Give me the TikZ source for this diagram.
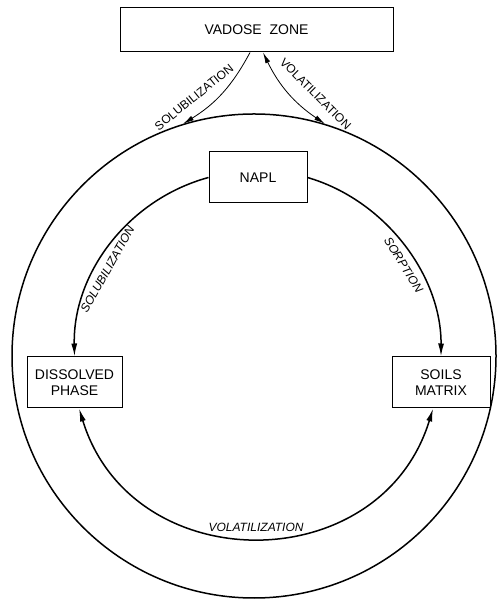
\documentclass[tikz,border=0pt]{standalone}
\usepackage{fontspec}
\setmainfont{Liberation Sans}
\usetikzlibrary{arrows.meta}

\begin{document}
\begin{tikzpicture}[x=1pt, y=1pt,
  box/.style={draw, line width=1pt, align=center, inner sep=0pt, font=\fontsize{14}{16}\selectfont},
  bigtip/.tip={Latex[length=13pt, width=6pt]},
  smalltip/.tip={Latex[length=11pt, width=5pt]},
  flow/.style={line width=1.5pt, -bigtip},
  swap/.style={line width=0.8pt, -smalltip},
  lbl/.style={font=\fontsize{12}{14}\selectfont, inner sep=0pt},
  ilbl/.style={font=\itshape\fontsize{12}{14}\selectfont, inner sep=2pt}]
\useasboundingbox (0,0) rectangle (498,599);
\node[circle, draw, line width=1.5pt, minimum size=484pt, inner sep=0pt] (ring) at (254,243) {};
\node[box, minimum width=273pt, minimum height=44pt] (vad) at (256.5,569) {VADOSE~~ZONE};
\node[box, minimum width=98pt, minimum height=51pt] (napl) at (258,421.5) {NAPL};
\node[box, minimum width=95pt, minimum height=51pt] (dis) at (74.5,216.5) {DISSOLVED\\PHASE};
\node[box, minimum width=98pt, minimum height=51pt] (soil) at (441,216.5) {SOILS\\MATRIX};
\draw[swap] ([xshift=-6.5pt]vad.south) to[bend left=15]
  node[lbl, pos=0.5, xshift=-28pt, yshift=-4pt, rotate=39] {SOLUBILIZATION} (ring.107);
\draw[swap, smalltip-smalltip] ([xshift=6.5pt]vad.south) to[bend right=15]
  node[lbl, pos=0.5, xshift=27pt, yshift=-1pt, rotate=-45] {VOLATILIZATION} (ring.73);
\draw[flow] (napl.west) to[bend right=38, looseness=0.95]
  node[ilbl, sloped, below=4pt, pos=0.6] {SOLUBILIZATION} (dis.north);
\draw[flow] (napl.east) to[bend left=37, looseness=0.93]
  node[ilbl, sloped, below=4pt, pos=0.57] {SORPTION} (soil.north);
\draw[flow, bigtip-bigtip] (dis.-80) to[bend right=73, looseness=1.3]
  node[ilbl, above=3pt, midway] {VOLATILIZATION} (soil.-107);
\end{tikzpicture}
\end{document}
